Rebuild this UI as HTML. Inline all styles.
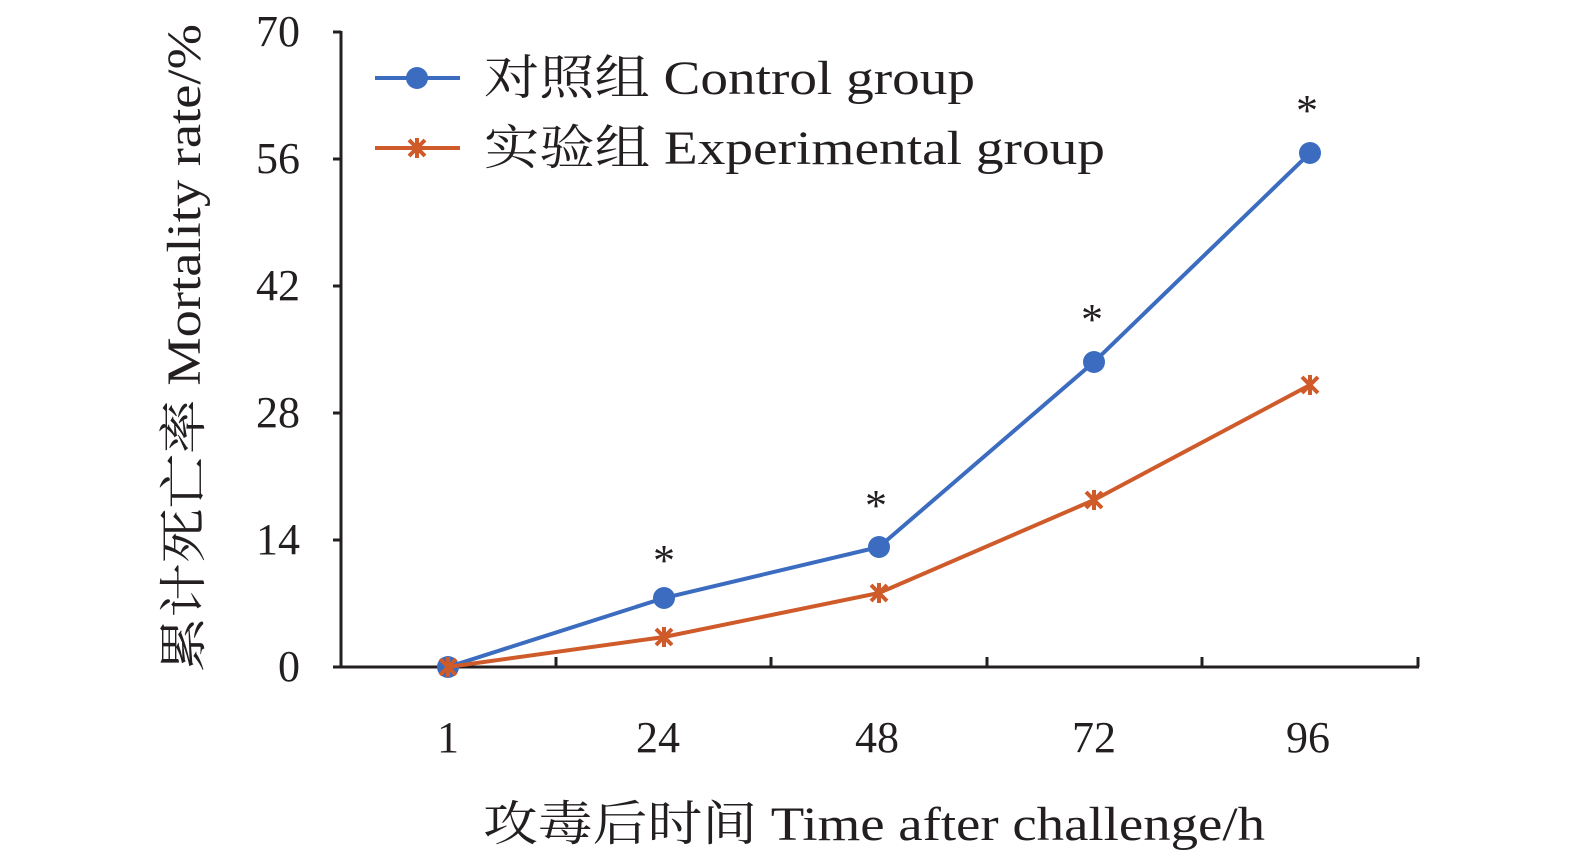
<!DOCTYPE html>
<html><head><meta charset="utf-8"><style>
html,body{margin:0;padding:0;background:#fff;}
svg{display:block;}
text{font-family:"Liberation Serif","Noto Serif CJK SC",serif;fill:#231f20;}
</style></head><body>
<svg width="1575" height="863" viewBox="0 0 1575 863">
<g stroke="#231f20" stroke-width="3" fill="none">
<line x1="341" y1="31" x2="341" y2="668"/>
<line x1="340" y1="667" x2="1419" y2="667"/>
<line x1="333" y1="32" x2="341" y2="32"/>
<line x1="333" y1="159" x2="341" y2="159"/>
<line x1="333" y1="286" x2="341" y2="286"/>
<line x1="333" y1="413" x2="341" y2="413"/>
<line x1="333" y1="540" x2="341" y2="540"/>
<line x1="333" y1="667" x2="341" y2="667"/>
<line x1="556" y1="657" x2="556" y2="667"/>
<line x1="771" y1="657" x2="771" y2="667"/>
<line x1="987" y1="657" x2="987" y2="667"/>
<line x1="1202" y1="657" x2="1202" y2="667"/>
<line x1="1418" y1="657" x2="1418" y2="667"/>
</g>
<g font-size="44" text-anchor="end">
<text x="300" y="46">70</text><text x="300" y="173">56</text><text x="300" y="300">42</text>
<text x="300" y="427">28</text><text x="300" y="554">14</text><text x="300" y="681">0</text>
</g>
<g font-size="44" text-anchor="middle">
<text x="448" y="752">1</text><text x="658" y="752">24</text><text x="877" y="752">48</text>
<text x="1094" y="752">72</text><text x="1308" y="752">96</text>
</g>
<text x="483" y="840" font-size="48" textLength="782" lengthAdjust="spacingAndGlyphs">攻毒后时间 Time after challenge/h</text>
<text transform="translate(200,672) rotate(-90)" font-size="48" textLength="648" lengthAdjust="spacingAndGlyphs">累计死亡率 Mortality rate/%</text>
<polyline points="448,667 664,598 879,547 1094,362 1310,153" stroke="#3b6cbf" stroke-width="4" fill="none"/>
<g fill="#3b6cbf">
<circle cx="448" cy="667" r="11"/><circle cx="664" cy="598" r="11"/><circle cx="879" cy="547" r="11"/>
<circle cx="1094" cy="362" r="11"/><circle cx="1310" cy="153" r="11"/>
</g>
<polyline points="448,667 664,637 879,593 1094,500 1310,385" stroke="#cf5a2a" stroke-width="4" fill="none"/>
<g stroke="#cf5a2a" stroke-width="4">
<path d="M440,659l16,16M456,659l-16,16M448,657v20"/>
<path d="M656,629l16,16M672,629l-16,16M664,627v20"/>
<path d="M871,585l16,16M887,585l-16,16M879,583v20"/>
<path d="M1086,492l16,16M1102,492l-16,16M1094,490v20"/>
<path d="M1302,377l16,16M1318,377l-16,16M1310,375v20"/>
</g>
<g font-size="44" text-anchor="middle">
<text x="664" y="575">*</text><text x="876" y="520">*</text><text x="1092" y="334">*</text><text x="1307" y="125">*</text>
</g>
<line x1="375" y1="78" x2="460" y2="78" stroke="#3b6cbf" stroke-width="4"/>
<circle cx="417" cy="78" r="11" fill="#3b6cbf"/>
<text x="484" y="94" font-size="48" textLength="491" lengthAdjust="spacingAndGlyphs">对照组 Control group</text>
<line x1="375" y1="148" x2="460" y2="148" stroke="#cf5a2a" stroke-width="4"/>
<path d="M409,140l16,16M425,140l-16,16M417,138v20" stroke="#cf5a2a" stroke-width="4"/>
<text x="484" y="164" font-size="48" textLength="621" lengthAdjust="spacingAndGlyphs">实验组 Experimental group</text>
</svg>
</body></html>
